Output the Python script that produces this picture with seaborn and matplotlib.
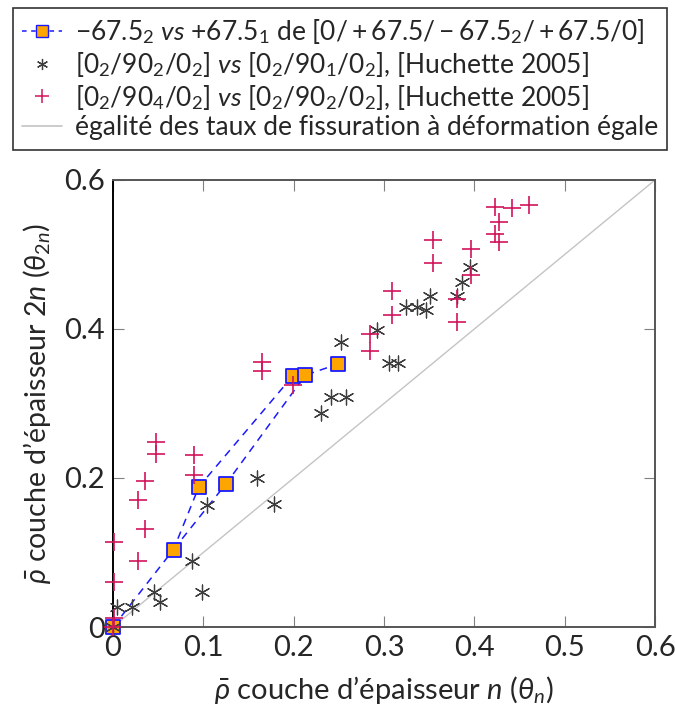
import numpy as np
import pandas as pd
import matplotlib
matplotlib.use("Agg")
import matplotlib.pyplot as plt
from matplotlib.lines import Line2D
import seaborn as sns

# calcul -67.5_2 vs +67.5_1 (deux branches partant de l'origine)
calc_branche = ["a", "a", "a", "a", "b", "b", "b", "b"]
calc_x = [0.0, 0.067, 0.095, 0.199, 0.067, 0.125, 0.213, 0.249]
calc_y = [0.0, 0.104, 0.188, 0.337, 0.104, 0.192, 0.338, 0.353]

# [0_2/90_2/0_2] vs [0_2/90_1/0_2], Huchette 2005
huch1_x = [0.0, 0.004, 0.021, 0.045, 0.052, 0.088, 0.098, 0.104, 0.159, 0.178,
           0.230, 0.241, 0.258, 0.252, 0.292, 0.306, 0.316, 0.324, 0.337, 0.347,
           0.351, 0.381, 0.386, 0.395]
huch1_y = [0.0, 0.027, 0.027, 0.047, 0.034, 0.089, 0.047, 0.164, 0.200, 0.165,
           0.287, 0.309, 0.309, 0.382, 0.398, 0.355, 0.355, 0.429, 0.429, 0.426,
           0.444, 0.444, 0.463, 0.483]

# [0_2/90_4/0_2] vs [0_2/90_2/0_2], Huchette 2005
huch2_x = [0.0, 0.001, 0.001, 0.001, 0.028, 0.035, 0.028, 0.035, 0.048, 0.048,
           0.090, 0.090, 0.165, 0.165, 0.199, 0.285, 0.285, 0.309, 0.309, 0.354,
           0.354, 0.381, 0.381, 0.396, 0.396, 0.423, 0.427, 0.427, 0.423, 0.442,
           0.460]
huch2_y = [0.0, 0.012, 0.061, 0.114, 0.089, 0.132, 0.171, 0.196, 0.232, 0.248,
           0.204, 0.231, 0.344, 0.356, 0.325, 0.370, 0.393, 0.419, 0.451, 0.488,
           0.519, 0.409, 0.440, 0.472, 0.507, 0.528, 0.517, 0.544, 0.564, 0.562,
           0.566]

egalite_x = [0.0, 0.6]
egalite_y = [0.0, 0.6]

x_ticks = [0, 0.1, 0.2, 0.3, 0.4, 0.5, 0.6]
x_ticklabels = ["0", "0.1", "0.2", "0.3", "0.4", "0.5", "0.6"]
y_ticks = [0, 0.2, 0.4, 0.6]
y_ticklabels = ["0", "0.2", "0.4", "0.6"]

labels = [
    r"$-67.5_2$ $vs$ $+67.5_1$ de $[0/+67.5/-67.5_2/+67.5/0]$",
    r"$[0_2/90_2/0_2]$ $vs$ $[0_2/90_1/0_2]$, [Huchette 2005]",
    r"$[0_2/90_4/0_2]$ $vs$ $[0_2/90_2/0_2]$, [Huchette 2005]",
    "égalité des taux de fissuration à déformation égale",
]

sns.set_style("ticks")
plt.rcParams["font.family"] = ["Lato", "DejaVu Sans"]
plt.rcParams["mathtext.fontset"] = "custom"
plt.rcParams["mathtext.rm"] = "Lato"
plt.rcParams["mathtext.it"] = "Lato:italic"
plt.rcParams["mathtext.bf"] = "Lato:bold"
plt.rcParams["mathtext.fallback"] = "stixsans"

blue = "#1a1aff"
orange = "#ffa500"
grey = "#3d3d3d"
red = "#d1145a"
light = "#c4c4c4"

calc = pd.DataFrame({"x": calc_x, "y": calc_y, "branche": calc_branche})
calc_pts = calc.drop_duplicates(subset=["x", "y"])
h1 = pd.DataFrame({"x": huch1_x, "y": huch1_y})
h2 = pd.DataFrame({"x": huch2_x, "y": huch2_y})
eg = pd.DataFrame({"x": egalite_x, "y": egalite_y})

fig = plt.figure(figsize=(6.75, 7.1), dpi=100)
ax = fig.add_axes([0.1674, 0.1169, 0.803, 0.6296])

sns.lineplot(data=eg, x="x", y="y", color=light, lw=1.0, ax=ax, zorder=1)
sns.lineplot(data=calc, x="x", y="y", units="branche", estimator=None, sort=False,
             color=blue, lw=1.1, ax=ax, zorder=2)
for ln in ax.lines[1:]:
    ln.set_linestyle((0, (5, 4)))
sns.scatterplot(data=calc_pts, x="x", y="y", marker="s", s=105, color=orange,
                edgecolor=blue, linewidth=1.3, ax=ax, zorder=3, clip_on=False)
sns.scatterplot(data=h1, x="x", y="y", marker=(6, 2, 0), s=115, color=grey,
                linewidth=0.9, ax=ax, zorder=4, clip_on=False)
sns.scatterplot(data=h2, x="x", y="y", marker="+", s=170, color=red,
                linewidth=1.2, ax=ax, zorder=5, clip_on=False)

ax.set_xlim(0, 0.6)
ax.set_ylim(0, 0.6)
ax.set_xticks(x_ticks)
ax.set_xticklabels(x_ticklabels)
ax.set_yticks(y_ticks)
ax.set_yticklabels(y_ticklabels)
ax.tick_params(direction="in", length=8, width=0.8, color="#808080",
               labelsize=21, top=True, right=True, pad=6)
for side in ["top", "right", "bottom", "left"]:
    ax.spines[side].set_visible(True)
    ax.spines[side].set_color("#555555")
    ax.spines[side].set_linewidth(1.4)
ax.spines["left"].set_color("black")

ax.set_xlabel(r"$\bar{\rho}$ couche d’épaisseur $n$ ($\theta_n$)", fontsize=21, labelpad=9)
ax.set_ylabel(r"$\bar{\rho}$ couche d’épaisseur 2$n$ ($\theta_{2n}$)", fontsize=20.5, labelpad=8)

handles = [
    Line2D([], [], color=blue, ls=(0, (3, 3)), lw=1.1, marker="s", markersize=9,
           markerfacecolor=orange, markeredgecolor=blue),
    Line2D([], [], ls="none", marker=(6, 2, 0), markersize=8, color=grey, markeredgewidth=0.9),
    Line2D([], [], ls="none", marker="+", markersize=10, color=red, markeredgewidth=1.1),
    Line2D([], [], color=light, lw=1.2),
]
leg = fig.legend(handles, labels, loc="upper left", bbox_to_anchor=(13 / 675, 1 - 8 / 710),
                 fontsize=19, handlelength=1.5, handletextpad=0.5, borderpad=0.35,
                 labelspacing=0.14, fancybox=False, framealpha=1, borderaxespad=0)
leg.get_frame().set_edgecolor("#333333")
leg.get_frame().set_linewidth(1.2)

fig.savefig("out.png", dpi=100)
